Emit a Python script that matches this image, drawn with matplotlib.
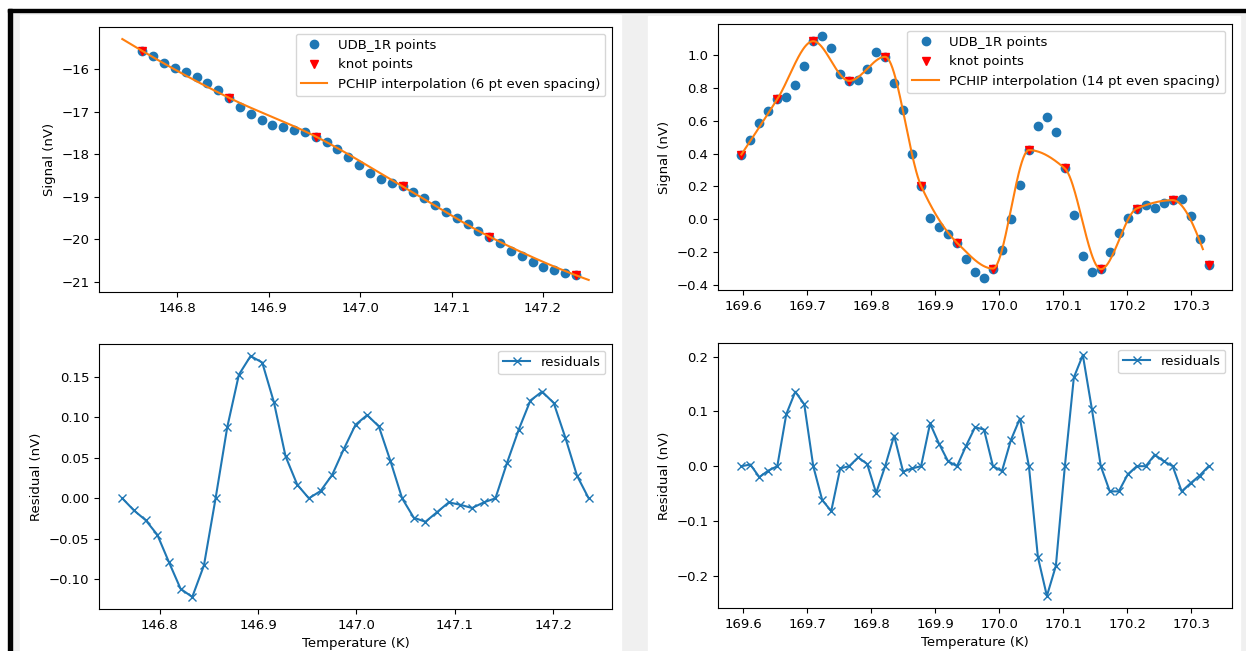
import numpy as np
import matplotlib.pyplot as plt
from matplotlib.patches import Rectangle

plt.rcParams['font.size'] = 9.5

# --- run 1: 146.76 - 147.24 K, 6 knots ---
t1_start, t1_end = 146.762, 147.236
sig1 = [-15.57, -15.69, -15.84, -15.98, -16.06, -16.18, -16.32, -16.49, -16.67,
        -16.88, -17.05, -17.20, -17.30, -17.35, -17.42, -17.48, -17.58,
        -17.72, -17.88, -18.06, -18.25, -18.43, -18.57, -18.67, -18.75,
        -18.89, -19.03, -19.18, -19.35, -19.50, -19.63, -19.79, -19.93,
        -20.09, -20.26, -20.39, -20.53, -20.64, -20.72, -20.79, -20.84]
res1 = [0.000, -0.015, -0.027, -0.045, -0.079, -0.112, -0.122, -0.083, 0.000,
        0.088, 0.153, 0.176, 0.168, 0.119, 0.052, 0.017, 0.000,
        0.009, 0.029, 0.061, 0.091, 0.103, 0.089, 0.046, 0.000,
        -0.024, -0.029, -0.017, -0.005, -0.008, -0.012, -0.005, 0.000,
        0.044, 0.085, 0.121, 0.132, 0.118, 0.075, 0.028, 0.000]
knot_step1 = 8
fit_range1 = (146.74, 147.25)

# --- run 2: 169.60 - 170.33 K, 14 knots ---
t2_start, t2_end = 169.597, 170.327
sig2 = [0.394, 0.480, 0.589, 0.659, 0.732, 0.746, 0.819, 0.935, 1.085,
        1.116, 1.045, 0.884, 0.843, 0.848, 0.913, 1.016, 0.990,
        0.831, 0.665, 0.398, 0.203, 0.010, -0.047, -0.093, -0.144,
        -0.244, -0.325, -0.358, -0.301, -0.185, 0.004, 0.211, 0.421,
        0.571, 0.624, 0.530, 0.309, 0.024, -0.224, -0.325, -0.305,
        -0.203, -0.087, 0.010, 0.065, 0.085, 0.071, 0.100, 0.116,
        0.122, 0.018, -0.120, -0.280]
res2 = [0.0, 0.003, -0.020, -0.008, 0.0, 0.095, 0.136, 0.113, 0.0,
        -0.062, -0.082, -0.004, 0.0, 0.016, 0.004, -0.049, 0.0,
        0.056, -0.010, -0.004, 0.0, 0.078, 0.041, 0.009, 0.0,
        0.037, 0.071, 0.067, 0.0, -0.009, 0.048, 0.087, 0.0,
        -0.166, -0.237, -0.182, 0.0, 0.162, 0.203, 0.105, 0.0,
        -0.046, -0.046, -0.015, 0.0, 0.0, 0.021, 0.009, 0.0,
        -0.046, -0.031, -0.017, 0.0]
knot_step2 = 4
fit_range2 = (169.597, 170.318)


def pchip(xk, yk, x):
    # monotone piecewise cubic hermite (Fritsch-Carlson), end pieces extrapolate
    xk = np.asarray(xk, float)
    yk = np.asarray(yk, float)
    h = np.diff(xk)
    d = np.diff(yk) / h
    n = len(xk)
    m = np.zeros(n)
    for k in range(1, n - 1):
        if d[k - 1] * d[k] > 0:
            w1 = 2 * h[k] + h[k - 1]
            w2 = h[k] + 2 * h[k - 1]
            m[k] = (w1 + w2) / (w1 / d[k - 1] + w2 / d[k])

    def edge(h0, h1, d0, d1):
        e = ((2 * h0 + h1) * d0 - h0 * d1) / (h0 + h1)
        if np.sign(e) != np.sign(d0):
            e = 0.0
        elif np.sign(d0) != np.sign(d1) and abs(e) > abs(3 * d0):
            e = 3 * d0
        return e

    m[0] = edge(h[0], h[1], d[0], d[1])
    m[-1] = edge(h[-1], h[-2], d[-1], d[-2])

    i = np.clip(np.searchsorted(xk, x) - 1, 0, n - 2)
    t = (x - xk[i]) / h[i]
    h00 = 2 * t**3 - 3 * t**2 + 1
    h10 = t**3 - 2 * t**2 + t
    h01 = -2 * t**3 + 3 * t**2
    h11 = t**3 - t**2
    return h00 * yk[i] + h10 * h[i] * m[i] + h01 * yk[i + 1] + h11 * h[i] * m[i + 1]


W, H = 1246, 651
fig = plt.figure(figsize=(W / 100, H / 100), dpi=100)
fig.patch.set_facecolor('white')


def px_rect(x0, y0, x1, y1, color):
    fig.patches.append(Rectangle((x0 / W, 1 - y1 / H), (x1 - x0) / W, (y1 - y0) / H,
                                 transform=fig.transFigure, color=color, zorder=-10))


def px_axes(x0, y0, x1, y1):
    return fig.add_axes([x0 / W, 1 - y1 / H, (x1 - x0) / W, (y1 - y0) / H])


# page frame
px_rect(12, 12, W, H, '#f0f0f0')
px_rect(8, 9, W, 12, 'black')
px_rect(8, 9, 12, H, 'black')
px_rect(20, 15, 621, H, 'white')
px_rect(648, 16, 1240, H, 'white')


def draw_run(ax_top, ax_bot, t0, t1, sig, res, step, fit_range, npts):
    temp = np.linspace(t0, t1, len(sig))
    sig = np.asarray(sig)
    tk, sk = temp[::step], sig[::step]
    tf = np.linspace(fit_range[0], fit_range[1], 600)

    ax_top.plot(temp, sig, 'o', label='UDB_1R points')
    ax_top.plot(tk, sk, 'v', color='red', label='knot points')
    ax_top.plot(tf, pchip(tk, sk, tf), color='tab:orange',
                label='PCHIP interpolation (%d pt even spacing)' % npts)
    ax_top.set_ylabel('Signal (nV)')
    ax_top.legend()

    ax_bot.plot(temp, res, 'x-', label='residuals')
    ax_bot.set_ylabel('Residual (nV)')
    ax_bot.set_xlabel('Temperature (K)')
    ax_bot.legend()


ax1 = px_axes(99, 27, 612, 292)
ax2 = px_axes(99, 344, 612, 609)
ax3 = px_axes(718, 24, 1232, 290)
ax4 = px_axes(718, 343, 1232, 608)

draw_run(ax1, ax2, t1_start, t1_end, sig1, res1, knot_step1, fit_range1, 6)
draw_run(ax3, ax4, t2_start, t2_end, sig2, res2, knot_step2, fit_range2, 14)

fig.savefig('out.png', dpi=100, facecolor=fig.get_facecolor())
